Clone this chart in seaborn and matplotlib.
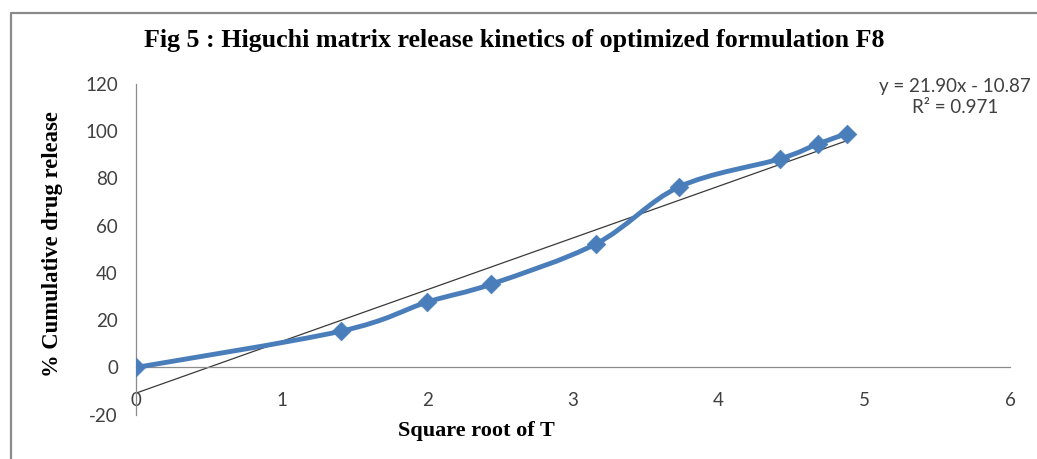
import numpy as np
import pandas as pd
import matplotlib
matplotlib.use("Agg")
import matplotlib.pyplot as plt
import seaborn as sns
from matplotlib.path import Path
from matplotlib.patches import PathPatch
from matplotlib.lines import Line2D

# ---- data ----
sqrt_t = [0.0, 1.41, 2.0, 2.44, 3.16, 3.73, 4.42, 4.68, 4.88]
release = [0.0, 15.4, 27.7, 35.3, 52.4, 76.5, 88.3, 94.6, 99.0]
trend_slope = 21.90
trend_intercept = -10.87
r_squared = 0.971
x_ticks = [0, 1, 2, 3, 4, 5, 6]
y_ticks = [-20, 0, 20, 40, 60, 80, 100, 120]

title = "Fig 5 : Higuchi matrix release kinetics of optimized formulation F8"
xlabel = "Square root of T"
ylabel = "% Cumulative drug release"

BLUE = "#4A7EBB"
W, H = 1037, 459

sns.set_theme(style="white")
plt.rcParams["font.family"] = ["Lato", "DejaVu Sans"]

fig = plt.figure(figsize=(W / 100, H / 100), dpi=100)
fig.patch.set_facecolor("white")
ax = fig.add_axes([136 / W, 1 - 414.7 / H, (1010 - 136) / W, (414.7 - 84) / H])
ax.set_facecolor("white")

df = pd.DataFrame({"x": sqrt_t, "y": release})

# smoothed series line (Excel-style Bezier smoothing of the data polyline)
pts = np.column_stack([df["x"].to_numpy(), df["y"].to_numpy()])
ext = np.vstack([pts[0], pts, pts[-1]])
verts = [tuple(pts[0])]
codes = [Path.MOVETO]
for i in range(1, len(ext) - 2):
    p0, p1, p2, p3 = ext[i - 1], ext[i], ext[i + 1], ext[i + 2]
    c1 = p1 + (p2 - p0) / 6.0
    c2 = p2 - (p3 - p1) / 6.0
    verts += [tuple(c1), tuple(c2), tuple(p2)]
    codes += [Path.CURVE4] * 3
ax.add_patch(PathPatch(Path(verts, codes), facecolor="none", edgecolor=BLUE,
                       lw=3.5, capstyle="round", joinstyle="round", zorder=3))

# markers
sns.scatterplot(data=df, x="x", y="y", marker="D", s=90, color=BLUE,
                edgecolor=BLUE, linewidth=0.5, ax=ax, zorder=4, legend=False)

# linear trendline
tx = np.array([df["x"].min(), df["x"].max()])
ty = trend_slope * tx + trend_intercept
sns.lineplot(x=tx, y=ty, color="#3a3a3a", lw=0.9, ax=ax, zorder=2)

ax.set_xlim(x_ticks[0], x_ticks[-1])
ax.set_ylim(y_ticks[0], y_ticks[-1])
ax.set_xticks(x_ticks)
ax.set_yticks(y_ticks)
ax.set_xticklabels([str(v) for v in x_ticks])
ax.set_yticklabels([str(v) for v in y_ticks])

for s in ["top", "right"]:
    ax.spines[s].set_visible(False)
ax.spines["bottom"].set_position(("data", 0))
for s in ["left", "bottom"]:
    ax.spines[s].set_color("#8c8c8c")
    ax.spines[s].set_linewidth(0.9)

ax.tick_params(axis="both", which="major", direction="out", length=5,
               width=0.9, color="#8c8c8c", labelsize=13.5, labelcolor="#404040")
ax.tick_params(axis="x", pad=13)
ax.tick_params(axis="y", pad=8)
ax.grid(False)

ax.set_xlabel(xlabel, fontsize=16, fontweight="bold",
              family=["Liberation Serif", "DejaVu Serif"], color="black")
ax.xaxis.set_label_coords((476 - 136) / 874, -0.018)
ax.set_ylabel(ylabel, fontsize=16.3, fontweight="bold",
              family=["Liberation Serif", "DejaVu Serif"], color="black")
ax.yaxis.set_label_coords((63 - 136) / 874, 0.516)

fig.text(514 / W, 1 - 40 / H, title, ha="center", va="center", fontsize=18.7,
         fontweight="bold", family=["Liberation Serif", "DejaVu Serif"], color="black")

fig.text(955 / W, 1 - 97 / H,
         f"y = {trend_slope:.2f}x - {abs(trend_intercept):.2f}\nR² = {r_squared:.3f}",
         ha="center", va="center", fontsize=13.5, color="#404040",
         linespacing=1.25, multialignment="center")

# outer chart border (top and left visible)
fig.add_artist(Line2D([11 / W, 11 / W], [0, 1 - 12.7 / H], transform=fig.transFigure,
                      color="#8a8a8a", lw=1.6))
fig.add_artist(Line2D([11 / W, 1], [1 - 12.7 / H, 1 - 12.7 / H], transform=fig.transFigure,
                      color="#8a8a8a", lw=1.6))

fig.savefig("out.png", dpi=100)
